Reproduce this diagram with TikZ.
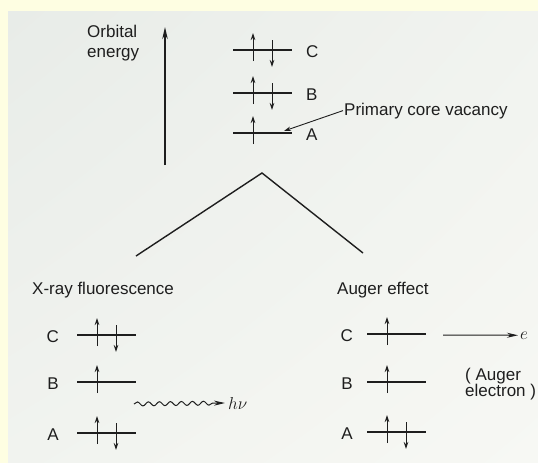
\documentclass[tikz,border=0pt]{standalone}
\usepackage{fontspec}
\setmainfont{Liberation Sans}
\usetikzlibrary{arrows.meta,decorations.pathmorphing,shadings}

\definecolor{ink}{HTML}{1E1E1E}
\definecolor{cream}{HTML}{FEFEE2}
\definecolor{paperA}{HTML}{E8ECE8}
\definecolor{paperB}{HTML}{F7F8F4}

\tikzset{
  level/.style={draw=ink, line width=2.1pt},
  spin/.style={draw=ink, line width=0.9pt, -{Stealth[length=7pt,width=4.5pt]}},
  emit/.style={draw=ink, line width=1pt, -{Stealth[length=11pt,width=5pt]}},
  wave/.style={emit, decorate,
    decoration={snake, amplitude=2pt, segment length=11pt, post length=12pt}},
  lbl/.style={text=ink, inner sep=0pt, font=\fontsize{17}{20}\selectfont},
}

% one orbital level: name, left end x, y
\newcommand\orblevel[3]{%
  \coordinate (#1-l) at (#2,#3);
  \coordinate (#1-r) at ([xshift=59pt]#1-l);
  \draw[level] (#1-l) -- (#1-r);}
\newcommand\spinup[1]{\draw[spin] ([shift={(20,11)}]#1-l) -- ([shift={(20,-17)}]#1-l);}
\newcommand\spindown[1]{\draw[spin] ([shift={(39,-10)}]#1-l) -- ([shift={(39,17)}]#1-l);}

\begin{document}
\begin{tikzpicture}[x=1pt,y=-1pt]

% ---- paper ----
\useasboundingbox (0,0) rectangle (538,463);
\fill[cream] (0,0) rectangle (538,463);
\shade[upper left=paperA, lower right=paperB, upper right=paperB!60!paperA, lower left=paperB!60!paperA]
  (8,11) rectangle (538,463);

% ---- initial state with core vacancy ----
\node[lbl, anchor=base west, align=left] (energy) at (87,57) {Orbital\\energy};
\coordinate (eaxis-b) at (165,165);
\coordinate (eaxis-t) at (165,27);
\draw[draw=ink, line width=1.3pt, -{Stealth[length=12pt,width=5.5pt]}] (eaxis-b) -- (eaxis-t);

\orblevel{tC}{233}{50}
\orblevel{tB}{233}{93}
\orblevel{tA}{233}{133}
\spinup{tC} \spindown{tC}
\spinup{tB} \spindown{tB}
\spinup{tA}
\foreach \lv in {C,B,A}
  \node[lbl, anchor=west] (t\lv-lab) at ([shift={(14,2)}]t\lv-r) {\lv};

\node[lbl, anchor=base west] (vacancy) at (344,115) {Primary core vacancy};
\coordinate (vacancy-tip) at (284,131);
\draw[spin] ([xshift=-1pt]vacancy.west) -- (vacancy-tip);

% ---- branching ----
\coordinate (fork-l) at (136,256);
\coordinate (fork-t) at (262,173);
\coordinate (fork-r) at (363,253);
\draw[draw=ink, line width=1.4pt] (fork-l) -- (fork-t) -- (fork-r);

% ---- X-ray fluorescence ----
\node[lbl, anchor=base west] (xrf) at (32,294) {X-ray fluorescence};
\orblevel{xC}{77}{335}
\orblevel{xB}{77}{382}
\orblevel{xA}{77}{433}
\spinup{xC} \spindown{xC}
\spinup{xB}
\spinup{xA} \spindown{xA}
\foreach \lv in {C,B,A}
  \node[lbl, anchor=east] (x\lv-lab) at ([shift={(-18,2)}]x\lv-l) {\lv};

\node[lbl, anchor=base west] (photon) at (228,409) {$h\nu$};
\coordinate (photon-s) at (134,404);
\draw[wave] (photon-s) -- ([xshift=-3pt]photon.west);

% ---- Auger effect ----
\node[lbl, anchor=base west] (auger) at (337,294) {Auger effect};
\orblevel{aC}{367}{334}
\orblevel{aB}{367}{382}
\orblevel{aA}{367}{432}
\spinup{aC}
\spinup{aB}
\spinup{aA} \spindown{aA}
\foreach \lv in {C,B,A}
  \node[lbl, anchor=east] (a\lv-lab) at ([shift={(-14,2)}]a\lv-l) {\lv};

\node[lbl, anchor=base west] (elec) at (520,339) {$e$};
\coordinate (elec-s) at (443,335);
\draw[emit] (elec-s) -- ([xshift=-2pt]elec.west);
\node[lbl, anchor=base west, align=left, font=\fontsize{17}{16}\selectfont] (elec-note) at (465,396)
  {( Auger\\electron )};

\end{tikzpicture}
\end{document}
